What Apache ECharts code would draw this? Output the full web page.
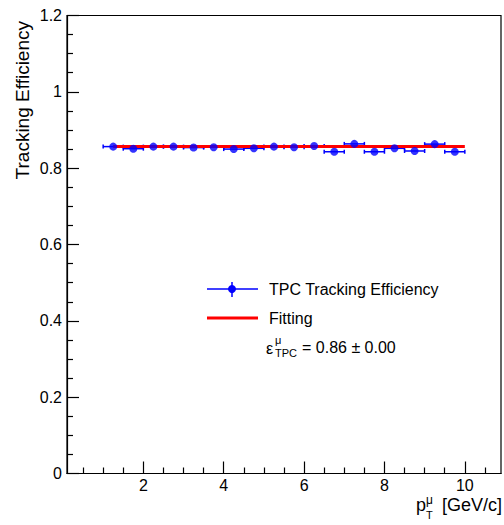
<!DOCTYPE html>
<html>
<head>
<meta charset="utf-8">
<script src="https://cdn.jsdelivr.net/npm/echarts@6/dist/echarts.min.js"></script>
<style>
  html, body { margin: 0; padding: 0; background: #fff; }
  #chart { width: 504px; height: 525px; }
</style>
</head>
<body>
<div id="chart"></div>
<script>
// ---- data ----
const ptCenters = [1.25, 1.75, 2.25, 2.75, 3.25, 3.75, 4.25, 4.75, 5.25, 5.75, 6.25, 6.75, 7.25, 7.75, 8.25, 8.75, 9.25, 9.75];
const ptHalfWidths = [0.25, 0.25, 0.25, 0.25, 0.25, 0.25, 0.25, 0.25, 0.25, 0.25, 0.25, 0.25, 0.25, 0.25, 0.25, 0.25, 0.25, 0.25];
const efficiency = [0.8565, 0.851, 0.8565, 0.8565, 0.854, 0.855, 0.850, 0.852, 0.8565, 0.855, 0.858, 0.843, 0.8636, 0.843, 0.852, 0.845, 0.863, 0.843];
const fitRange = [1.25, 10];
const fitValue = 0.8565;
const xTickValues = [2, 4, 6, 8, 10];
const xMinorTickValues = [0.5, 1, 1.5, 2.5, 3, 3.5, 4.5, 5, 5.5, 6.5, 7, 7.5, 8.5, 9, 9.5, 10.5];
const xRange = [0.1, 10.9];
const yRange = [0, 1.2];
const yTickStep = 0.2;
const legendLabels = ['TPC Tracking Efficiency', 'Fitting'];
const resultText = '= 0.86 \u00b1 0.00';

// ---- chart ----
const FONT = "'Liberation Sans', Arial, Helvetica, sans-serif";
const BLUE = '#0000ff';
const RED = '#ff0000';
const chart = echarts.init(document.getElementById('chart'), null, { renderer: 'svg' });

const pointData = ptCenters.map((x, i) => [x, efficiency[i], ptHalfWidths[i]]);
const fitData = [[fitRange[0], fitValue], [fitRange[1], fitValue]];

function txt(x, y, text, size, align) {
  return { type: 'text', x: x, y: y,
    style: { text: text, fontSize: size, fontFamily: FONT, fill: '#000', align: align || 'left', verticalAlign: 'middle' } };
}

const option = {
  animation: false,
  backgroundColor: '#fff',
  grid: {
    left: 67, right: 3, top: 15.5, bottom: 51.5,
    show: true, borderColor: '#000', borderWidth: 1.2, backgroundColor: 'transparent'
  },
  xAxis: [{
    type: 'value', min: xRange[0], max: xRange[1],
    axisLine: { show: true, onZero: false, lineStyle: { color: '#000', width: 1.2 } },
    axisTick: { show: true, inside: true, length: 12, customValues: xTickValues, lineStyle: { color: '#000', width: 1.2 } },
    axisLabel: { show: true, customValues: xTickValues, margin: 4, fontSize: 16, lineHeight: 16, color: '#000', fontFamily: FONT },
    splitLine: { show: false }
  }, {
    type: 'value', min: xRange[0], max: xRange[1], position: 'bottom',
    axisLine: { show: false },
    axisTick: { show: true, inside: true, length: 6, customValues: xMinorTickValues, lineStyle: { color: '#000', width: 1.2 } },
    axisLabel: { show: false },
    splitLine: { show: false }
  }],
  yAxis: {
    type: 'value', min: yRange[0], max: yRange[1], interval: yTickStep,
    axisLine: { show: true, onZero: false, lineStyle: { color: '#000', width: 1.2 } },
    axisTick: { show: true, inside: true, length: 12, lineStyle: { color: '#000', width: 1.2 } },
    minorTick: { show: true, splitNumber: 4, length: 6, lineStyle: { color: '#000', width: 1.2 } },
    axisLabel: { margin: 5, fontSize: 16, color: '#000', fontFamily: FONT },
    splitLine: { show: false }, minorSplitLine: { show: false }
  },
  series: [
    {
      type: 'custom', name: 'errors', z: 1,
      data: pointData,
      renderItem: function (params, api) {
        const y = api.value(1);
        const hw = api.value(2);
        const p0 = api.coord([api.value(0) - hw, y]);
        const p1 = api.coord([api.value(0) + hw, y]);
        const style = { stroke: BLUE, lineWidth: 1.5 };
        return {
          type: 'group',
          children: [
            { type: 'line', shape: { x1: p0[0], y1: p0[1], x2: p1[0], y2: p1[1] }, style },
            { type: 'line', shape: { x1: p0[0], y1: p0[1] - 2, x2: p0[0], y2: p0[1] + 2 }, style },
            { type: 'line', shape: { x1: p1[0], y1: p1[1] - 2, x2: p1[0], y2: p1[1] + 2 }, style }
          ]
        };
      }
    },
    {
      type: 'line', name: 'Fitting', z: 2,
      data: fitData, showSymbol: false, symbol: 'none',
      lineStyle: { color: RED, width: 3 }
    },
    {
      type: 'scatter', name: 'TPC Tracking Efficiency', z: 3,
      data: pointData.map(d => [d[0], d[1]]),
      symbol: 'circle', symbolSize: 8,
      itemStyle: { color: BLUE }
    }
  ],
  graphic: [
    // y-axis title
    { type: 'text', x: 22, y: 21, rotation: Math.PI / 2,
      style: { text: 'Tracking Efficiency', fontSize: 19, fontFamily: FONT, fill: '#000', align: 'right', verticalAlign: 'middle' } },
    // x-axis title
    txt(416, 505, 'p', 18),
    txt(426, 500, '\u03bc', 12),
    txt(426, 515, 'T', 11),
    txt(502, 505, '[GeV/c]', 18, 'right'),
    // legend entry 1
    { type: 'line', shape: { x1: 207, y1: 289, x2: 258, y2: 289 }, style: { stroke: BLUE, lineWidth: 1.5 } },
    { type: 'line', shape: { x1: 232, y1: 282, x2: 232, y2: 297 }, style: { stroke: BLUE, lineWidth: 1.5 } },
    { type: 'circle', shape: { cx: 232, cy: 289, r: 4 }, style: { fill: BLUE } },
    txt(269, 289, legendLabels[0], 16),
    // legend entry 2
    { type: 'line', shape: { x1: 207, y1: 318, x2: 258, y2: 318 }, style: { stroke: RED, lineWidth: 3 } },
    txt(269, 318, legendLabels[1], 16),
    // result
    txt(266, 348, '\u03b5', 16),
    txt(275, 340, '\u03bc', 11),
    txt(275, 353, 'TPC', 11),
    txt(302, 347, resultText, 16)
  ]
};
chart.setOption(option);
</script>
</body>
</html>
